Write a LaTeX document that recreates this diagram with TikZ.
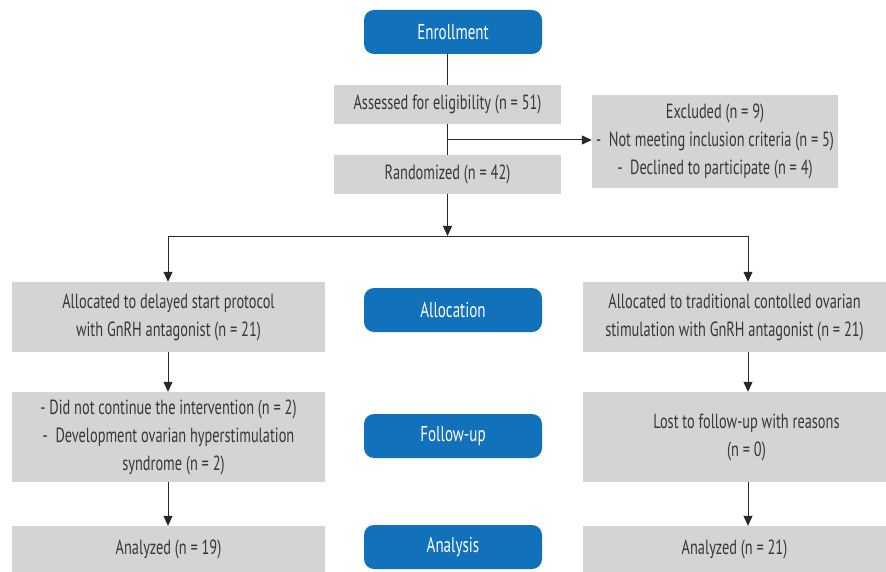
\documentclass[tikz,border=0pt]{standalone}
\usepackage{fontspec}
\setmainfont[FakeStretch=0.70]{PT Sans}
\usetikzlibrary{arrows.meta,calc}
\definecolor{boxgray}{RGB}{212,212,212}
\definecolor{myblue}{RGB}{17,113,186}
\definecolor{txt}{RGB}{55,55,55}
\definecolor{ln}{RGB}{40,40,40}
\begin{document}
\begin{tikzpicture}[x=1pt,y=-1pt,
  gbox/.style={fill=boxgray, draw=none, align=center, text=txt,
    font=\fontsize{20.5}{28}\selectfont, inner sep=0pt},
  bbox/.style={fill=myblue, draw=none, rounded corners=10pt, text=white,
    font=\fontsize{21.5}{28}\selectfont, minimum width=178pt, minimum height=44pt, inner sep=0pt},
  conn/.style={draw=ln, line width=1pt},
  arr/.style={conn, -{Triangle[length=10pt,width=9pt]}}]
\useasboundingbox (0,0) rectangle (886,572);

% blue stage boxes
\node[bbox] (enroll) at (453,32) {Enrollment};
\node[bbox] (alloc)  at (453,310) {Allocation};
\node[bbox] (follow) at (453,436) {Follow-up};
\node[bbox] (anal)   at (453,547) {Analysis};

% enrollment stage
\node[gbox, minimum width=227pt, minimum height=39pt] (assess) at (447.5,104.5) {Assessed for eligibility (n = 51)};
\node[gbox, minimum width=227pt, minimum height=39pt] (rand) at (447.5,174.5) {Randomized (n = 42)};
\node[gbox, minimum width=246pt, minimum height=93pt] (excl) at (715,141.5)
  {Excluded (n = 9)\\- \ Not meeting inclusion criteria (n = 5)\\- \ Declined to participate (n = 4)};

% left arm
\node[gbox, minimum width=313pt, minimum height=70pt] (lalloc) at (168.5,317)
  {Allocated to delayed start protocol\\with GnRH antagonist (n = 21)};
\node[gbox, minimum width=313pt, minimum height=90pt] (lfu) at (168.5,437)
  {- Did not continue the intervention (n = 2)\\- \ Development ovarian hyperstimulation\\\hspace*{10pt}syndrome (n = 2)};
\node[gbox, minimum width=313pt, minimum height=46pt] (lan) at (168.5,549) {Analyzed (n = 19)};

% right arm
\node[gbox, minimum width=303pt, minimum height=70pt] (ralloc) at (734.5,317)
  {Allocated to traditional contolled ovarian\\stimulation with GnRH antagonist (n = 21)};
\node[gbox, minimum width=303pt, minimum height=90pt] (rfu) at (734.5,437)
  {\hspace*{24pt}Lost to follow-up with reasons\\\hspace*{24pt}(n = 0)};
\node[gbox, minimum width=303pt, minimum height=46pt] (ran) at (734.5,549) {Analyzed (n = 21)};

% connectors
\draw[conn] (assess.north |- enroll.south) -- (assess.north);
\draw[conn] (assess.south) -- (rand.north);
\coordinate (branch) at (447.5,140);
\draw[arr] (branch) -- (branch -| excl.west);
\coordinate (split) at (447.5,236);
\draw[arr] (rand.south) -- (split);
\coordinate (lx) at (168,236);
\coordinate (rx) at (748,236);
\draw[conn] (lx) -- (rx);
\draw[arr] (lx) -- (lx |- lalloc.north);
\draw[arr] (rx) -- (rx |- ralloc.north);
\draw[arr] (lx |- lalloc.south) -- (lx |- lfu.north);
\draw[arr] (lx |- lfu.south) -- (lx |- lan.north);
\draw[arr] (rx |- ralloc.south) -- (rx |- rfu.north);
\draw[arr] (rx |- rfu.south) -- (rx |- ran.north);
\end{tikzpicture}
\end{document}
